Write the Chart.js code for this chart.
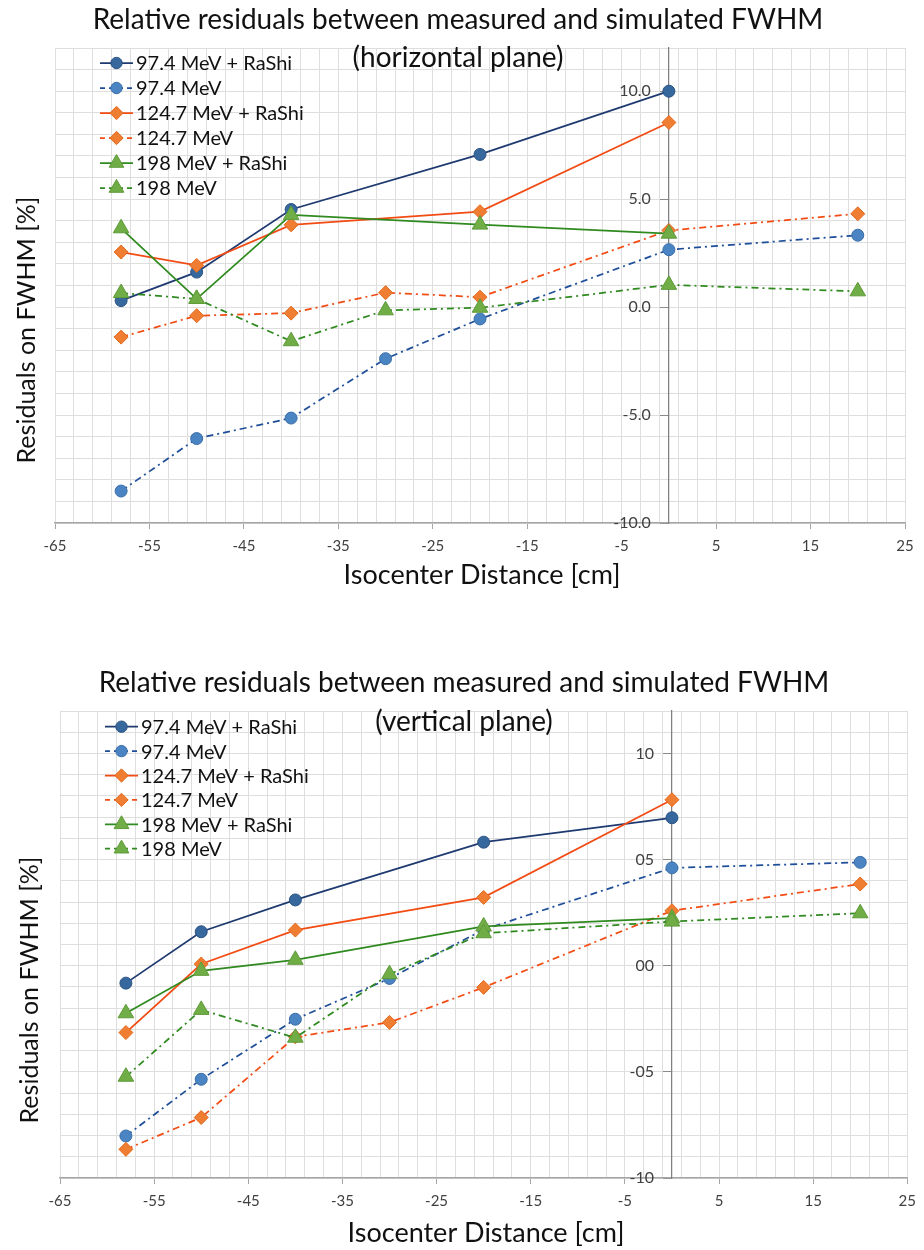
<!DOCTYPE html>
<html>
<head>
<meta charset="utf-8">
<script src="https://cdn.jsdelivr.net/npm/chart.js"></script>
<style>
  body { margin: 0; background: #fff; }
  .box { position: absolute; left: 0; width: 924px; }
</style>
</head>
<body>
<div class="box" style="top:0;height:620px"><canvas id="horiz" width="924" height="620"></canvas></div>
<div class="box" style="top:620px;height:630px"><canvas id="vert" width="924" height="630"></canvas></div>
<script>
const seriesNames = ['97.4 MeV + RaShi', '97.4 MeV', '124.7 MeV + RaShi', '124.7 MeV', '198 MeV + RaShi', '198 MeV'];

// isocenter distance [cm]
const xWithShifter = [-58, -50, -40, -20, 0];
const xNoShifter = [-58, -50, -40, -30, -20, 0, 20];

// horizontal plane, residuals [%]
const h974Rashi = [0.3, 1.62, 4.52, 7.07, 10.0];
const h974 = [-8.52, -6.09, -5.14, -2.39, -0.55, 2.66, 3.33];
const h1247Rashi = [2.55, 1.93, 3.81, 4.42, 8.55];
const h1247 = [-1.39, -0.4, -0.28, 0.67, 0.46, 3.55, 4.32];
const h198Rashi = [3.65, 0.38, 4.27, 3.82, 3.4];
const h198 = [0.65, 0.38, -1.58, -0.15, -0.03, 1.03, 0.73];

// vertical plane, residuals [%]
const v974Rashi = [-0.82, 1.6, 3.1, 5.82, 6.97];
const v974 = [-8.02, -5.35, -2.52, -0.6, 1.7, 4.61, 4.87];
const v1247Rashi = [-3.15, 0.08, 1.68, 3.22, 7.82];
const v1247 = [-8.65, -7.15, -3.35, -2.67, -1.02, 2.59, 3.85];
const v198Rashi = [-2.24, -0.24, 0.28, 1.85, 2.24];
const v198 = [-5.23, -2.08, -3.39, -0.4, 1.53, 2.08, 2.47];

// axis ticks
const xTickLabels = [-65, -55, -45, -35, -25, -15, -5, 5, 15, 25];
const yTickValues = [-10, -5, 0, 5, 10];
const yLabelsH = ['-10.0', '-5.0', '0.0', '5.0', '10.0'];
const yLabelsV = ['-10', '-05', '00', '05', '10'];

// minor x grid every 2 cm between the labelled ticks
const xGrid = [];
for (let v = xTickLabels[0]; v <= xTickLabels[xTickLabels.length - 1]; v += 2) xGrid.push(v);

Chart.defaults.font.family = 'Lato, "Open Sans", sans-serif';

const looks = [
  { line: '#1f3a70', fill: '#36679d', edge: '#2a5283', shape: 'circle', r: 6, dash: [] },
  { line: '#1f4e9a', fill: '#4a84c2', edge: '#3a6ea8', shape: 'circle', r: 6, dash: [7, 4, 2, 4] },
  { line: '#f24c14', fill: '#ef7d32', edge: '#e2691d', shape: 'rectRot', r: 7, dash: [] },
  { line: '#f24c14', fill: '#ef7d32', edge: '#e2691d', shape: 'rectRot', r: 7, dash: [7, 4, 2, 4] },
  { line: '#2f8a1f', fill: '#70ad47', edge: '#5e9b38', shape: 'triangle', r: 9, dash: [] },
  { line: '#2f8a1f', fill: '#70ad47', edge: '#5e9b38', shape: 'triangle', r: 9, dash: [7, 4, 2, 4] }
];

function pts(xs, ys) {
  return xs.map((x, i) => ({ x: x, y: ys[i] }));
}

function sets(lists) {
  return lists.map((d, i) => ({
    label: seriesNames[i],
    data: d,
    showLine: true,
    borderColor: looks[i].line,
    borderWidth: 1.75,
    borderDash: looks[i].dash,
    pointStyle: looks[i].shape,
    pointRadius: looks[i].r,
    pointBackgroundColor: looks[i].fill,
    pointBorderColor: looks[i].edge,
    pointBorderWidth: 1,
    order: lists.length - i
  }));
}

function marker(ctx, shape, r, x, y) {
  ctx.beginPath();
  if (shape === 'circle') {
    ctx.arc(x, y, r, 0, Math.PI * 2);
  } else if (shape === 'rectRot') {
    ctx.moveTo(x - r, y); ctx.lineTo(x, y - r); ctx.lineTo(x + r, y); ctx.lineTo(x, y + r);
  } else {
    ctx.moveTo(x, y - r);
    ctx.lineTo(x + r * Math.cos(Math.PI / 6), y + r / 2);
    ctx.lineTo(x - r * Math.cos(Math.PI / 6), y + r / 2);
  }
  ctx.closePath();
  ctx.fill();
  ctx.stroke();
}

// titles, y labels next to the crossing axis, and the legend - drawn by hand, excel style
const deco = {
  id: 'deco',
  beforeDatasetsDraw(chart, args, o) {
    const ctx = chart.ctx;
    const ax = chart.scales.x.getPixelForValue(0);
    ctx.save();
    ctx.font = '16px Lato';
    ctx.fillStyle = '#404040';
    ctx.textAlign = 'right';
    ctx.textBaseline = 'middle';
    yTickValues.forEach((v, k) => {
      ctx.fillText(o.yLabels[k], ax - 18, chart.scales.y.getPixelForValue(v));
    });
    ctx.restore();
  },
  afterDraw(chart, args, o) {
    const ctx = chart.ctx;
    const a = chart.chartArea;
    ctx.save();
    ctx.fillStyle = '#111';
    ctx.textAlign = 'center';
    ctx.textBaseline = 'middle';
    ctx.font = '28px Lato';
    ctx.fillText(o.title[0], o.titleX, o.titleY[0]);
    ctx.fillText(o.title[1], o.titleX, o.titleY[1]);
    ctx.font = '27px Lato';
    ctx.fillText('Isocenter Distance [cm]', o.xTitle[0], o.xTitle[1]);
    ctx.save();
    ctx.translate(o.yTitle[0], o.yTitle[1]);
    ctx.rotate(-Math.PI / 2);
    ctx.font = '25px Lato';
    ctx.fillText('Residuals on FWHM [%]', 0, 0);
    ctx.restore();

    // legend
    ctx.font = '20px Lato';
    ctx.textAlign = 'left';
    chart.data.datasets.forEach((ds, i) => {
      const lk = looks[i];
      const y = a.top + o.legTop + i * o.legStep;
      const x0 = a.left + 45;
      ctx.strokeStyle = lk.line;
      ctx.lineWidth = 1.75;
      ctx.setLineDash(lk.dash.length ? [5, 4] : []);
      ctx.beginPath();
      ctx.moveTo(x0, y); ctx.lineTo(x0 + 33, y);
      ctx.stroke();
      ctx.setLineDash([]);
      ctx.fillStyle = lk.fill;
      ctx.strokeStyle = lk.edge;
      ctx.lineWidth = 1;
      marker(ctx, lk.shape, lk.r * 0.95, x0 + 16.5, y);
      ctx.fillStyle = '#111';
      ctx.fillText(ds.label, x0 + 36, y + 1);
    });
    ctx.restore();
  }
};

function build(id, lists, o) {
  return new Chart(document.getElementById(id), {
    type: 'scatter',
    data: { datasets: sets(lists) },
    plugins: [deco],
    options: {
      responsive: false,
      animation: false,
      layout: { padding: o.padding },
      plugins: {
        legend: { display: false },
        tooltip: { enabled: false },
        deco: o
      },
      scales: {
        x: {
          type: 'linear',
          min: -65,
          max: 25,
          afterBuildTicks: s => { s.ticks = xGrid.map(v => ({ value: v })); },
          afterFit: s => { s.height = 40; },
          ticks: {
            autoSkip: false,
            maxRotation: 0,
            padding: 8,
            color: '#404040',
            font: { size: 15 },
            callback: v => xTickLabels.includes(v) ? String(v) : ''
          },
          grid: {
            color: '#dedede',
            lineWidth: 1,
            tickLength: 6,
            tickColor: c => (c.tick && xTickLabels.includes(c.tick.value)) ? '#a6a6a6' : 'rgba(0,0,0,0)'
          },
          border: { color: '#a6a6a6', width: 1.5 }
        },
        y: {
          type: 'linear',
          position: { x: 0 },
          min: -10,
          max: 12,
          ticks: { stepSize: 1, autoSkip: false, display: false },
          grid: {
            color: '#dedede',
            lineWidth: 1,
            tickLength: 8,
            tickColor: c => (c.tick && yTickValues.includes(c.tick.value)) ? '#8a8a8a' : 'rgba(0,0,0,0)'
          },
          border: { color: '#808080', width: 1.25 }
        }
      }
    }
  });
}

build('horiz', [
  pts(xWithShifter, h974Rashi), pts(xNoShifter, h974),
  pts(xWithShifter, h1247Rashi), pts(xNoShifter, h1247),
  pts(xWithShifter, h198Rashi), pts(xNoShifter, h198)
], {
  yLabels: yLabelsH,
  padding: { left: 55, right: 19, top: 48, bottom: 57 },
  title: ['Relative residuals between measured and simulated FWHM', '(horizontal plane)'],
  titleX: 458, titleY: [20, 58],
  xTitle: [482, 575], yTitle: [27, 330],
  legTop: 15, legStep: 25
});

build('vert', [
  pts(xWithShifter, v974Rashi), pts(xNoShifter, v974),
  pts(xWithShifter, v1247Rashi), pts(xNoShifter, v1247),
  pts(xWithShifter, v198Rashi), pts(xNoShifter, v198)
], {
  yLabels: yLabelsV,
  padding: { left: 60, right: 10, top: 91, bottom: 32 },
  title: ['Relative residuals between measured and simulated FWHM', '(vertical plane)'],
  titleX: 464, titleY: [63, 102],
  xTitle: [486, 613], yTitle: [30, 370],
  legTop: 15.7, legStep: 24.4
});
</script>
</body>
</html>
